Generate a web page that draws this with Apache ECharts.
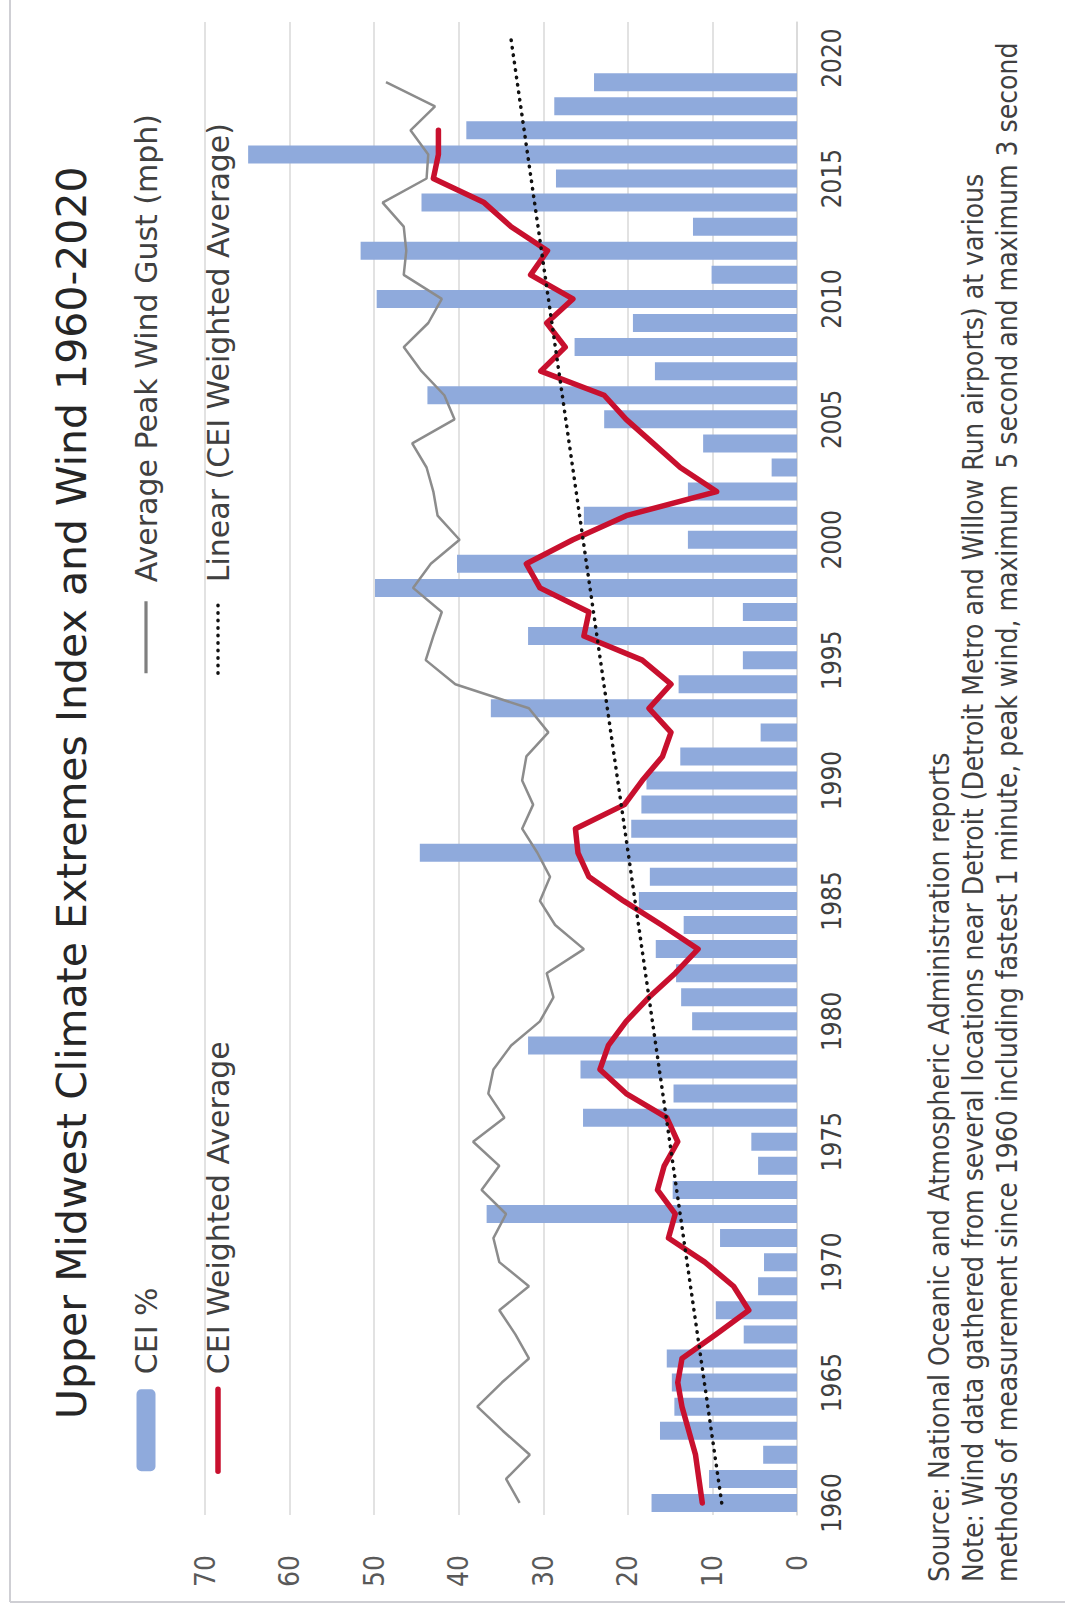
<!DOCTYPE html>
<html>
<head>
<meta charset="utf-8">
<script src="https://cdn.jsdelivr.net/npm/echarts@6/dist/echarts.min.js"></script>
<style>
  html, body { margin: 0; padding: 0; background: #fff; overflow: hidden; }
  /* the chart is laid out landscape and turned a quarter turn to sit on the portrait page */
  #frame {
    position: absolute; left: 0; top: 0;
    width: 1610px; height: 1065px;
    transform-origin: 0 0;
    transform: translateY(1610px) rotate(-90deg);
  }
</style>
</head>
<body>
<div id="frame"></div>
<script>
// Years on the category axis (labels every fifth year)
const years = [
  '1960','1961','1962','1963','1964','1965','1966','1967','1968','1969',
  '1970','1971','1972','1973','1974','1975','1976','1977','1978','1979',
  '1980','1981','1982','1983','1984','1985','1986','1987','1988','1989',
  '1990','1991','1992','1993','1994','1995','1996','1997','1998','1999',
  '2000','2001','2002','2003','2004','2005','2006','2007','2008','2009',
  '2010','2011','2012','2013','2014','2015','2016','2017','2018','2019',
  '2020','2021'
];

// Climate Extremes Index, percent (1960-2019)
const ceiPercent = [
  17.2, 10.4, 4.0, 16.2, 14.5, 14.8, 15.4, 6.3, 9.6, 4.6,
  3.9, 9.1, 36.7, 14.7, 4.6, 5.4, 25.3, 14.6, 25.6, 31.8,
  12.4, 13.7, 14.3, 16.7, 13.4, 18.7, 17.4, 44.6, 19.6, 18.4,
  17.8, 13.8, 4.3, 36.2, 14.0, 6.4, 31.8, 6.4, 49.9, 40.2,
  12.9, 25.2, 12.9, 3.0, 11.1, 22.8, 43.7, 16.8, 26.3, 19.4,
  49.7, 10.1, 51.6, 12.3, 44.4, 28.5, 64.9, 39.1, 28.7, 24.0,
  null, null
];

// CEI weighted average (1960-2017)
const ceiWeighted = [
  11.2, 11.6, 12.0, 12.8, 13.6, 14.1, 13.6, 9.6, 5.7, 7.5,
  10.9, 15.2, 14.4, 16.5, 15.7, 14.1, 15.4, 20.2, 23.3, 22.3,
  20.2, 17.5, 14.4, 11.7, 16.0, 20.5, 24.6, 25.9, 26.2, 20.4,
  18.3, 15.9, 14.9, 17.5, 14.9, 18.3, 25.2, 24.6, 30.4, 32.0,
  26.5, 20.2, 9.5, 13.8, 17.0, 20.2, 22.8, 30.3, 27.4, 29.6,
  26.5, 31.5, 29.5, 33.8, 37.0, 43.0, 42.4, 42.4,
  null, null, null, null
];

// Average peak wind gust, mph (1960-2019)
const windGust = [
  32.8, 34.4, 31.6, 34.8, 37.8, 34.9, 31.7, 33.3, 35.2, 31.7,
  35.2, 35.9, 34.4, 37.3, 35.2, 38.3, 34.6, 36.5, 35.9, 33.8,
  30.4, 28.8, 29.6, 25.2, 28.6, 30.4, 29.2, 30.7, 32.5, 31.2,
  32.5, 32.0, 29.4, 31.7, 40.4, 43.9, 43.0, 42.0, 45.4, 43.3,
  39.9, 42.5, 43.0, 43.8, 45.5, 40.5, 41.7, 44.4, 46.5, 43.6,
  42.0, 46.5, 46.2, 46.5, 49.0, 43.8, 43.6, 45.7, 42.8, 48.6,
  null, null
];

// Linear trend of the weighted average: value at the first and last year of the axis
const trendYears = ['1960', '2021'];
const trendValues = [8.9, 33.9];

// Value axis ticks
const valueTicks = [0, 10, 20, 30, 40, 50, 60, 70];

const titleText = 'Upper Midwest Climate Extremes Index and Wind 1960-2020';
const footnotes = [
  'Source: National Oceanic and Atmospheric Administration reports',
  'Note: Wind data gathered from several locations near Detroit (Detroit Metro and Willow Run airports) at various',
  'methods of measurement since 1960 including fastest 1 minute, peak wind, maximum  5 second and maximum 3 second'
];

const SANS = '"DejaVu Sans", "Noto Sans", sans-serif';
const NARROW = '"DejaVu Sans Condensed", "Liberation Sans Narrow", "DejaVu Sans", sans-serif';
const GRID = '#d9d9d9';

const RED = { color: '#c8102e', width: 5.5, join: 'round', cap: 'round' };
const GREY = { color: '#8c8c8c', width: 2.5 };
const DOTS = { color: '#111111', width: 3.5, type: [0.5, 7], cap: 'round' };

// line entries in the legend show only their stroke, without a marker
const lineKey = (name, style) => ({
  name: name,
  itemStyle: { opacity: 0 },
  lineStyle: Object.assign({ opacity: 1 }, style)
});

const chart = echarts.init(document.getElementById('frame'), null, {
  renderer: 'svg', width: 1610, height: 1065
});

chart.setOption({
  animation: false,
  backgroundColor: '#ffffff',
  title: {
    text: titleText,
    left: 186, top: 46,
    textStyle: { fontFamily: SANS, fontSize: 41, fontWeight: 'normal', color: '#262626' }
  },
  legend: [
    {
      orient: 'vertical', left: 131, top: 126, itemGap: 42,
      itemWidth: 82, itemHeight: 19,
      textStyle: { fontFamily: SANS, fontSize: 30, color: '#404040', padding: [0, 0, 0, 10] },
      data: ['CEI %', lineKey('CEI Weighted Average', RED)]
    },
    {
      orient: 'vertical', left: 930, top: 126, itemGap: 42,
      itemWidth: 72, itemHeight: 19,
      textStyle: { fontFamily: SANS, fontSize: 30, color: '#404040', padding: [0, 0, 0, 14] },
      data: [
        lineKey('Average Peak Wind Gust (mph)', { color: '#7f7f7f', width: 3.2 }),
        lineKey('Linear (CEI Weighted Average)', DOTS)
      ]
    }
  ],
  grid: { left: 95, right: 22, top: 205, bottom: 268 },
  xAxis: {
    type: 'category',
    data: years,
    boundaryGap: true,
    axisLine: { show: true, lineStyle: { color: GRID, width: 1.5 } },
    axisTick: { show: false },
    axisLabel: {
      interval: 4, margin: 22,
      fontFamily: NARROW, fontSize: 26, color: '#404040'
    },
    splitLine: { show: false }
  },
  yAxis: {
    type: 'value',
    min: valueTicks[0], max: valueTicks[valueTicks.length - 1], interval: 10,
    axisLine: { show: false },
    axisTick: { show: false },
    axisLabel: { margin: 40, fontFamily: NARROW, fontSize: 28, color: '#595959' },
    splitLine: { show: true, lineStyle: { color: GRID, width: 1.5 } }
  },
  graphic: [
    { type: 'line', silent: true, shape: { x1: 8, y1: 10, x2: 1610, y2: 10 },
      style: { stroke: '#cfcfd4', lineWidth: 2 } },
    { type: 'line', silent: true, shape: { x1: 8, y1: 10, x2: 8, y2: 1065 },
      style: { stroke: '#cfcfd4', lineWidth: 2 } }
  ].concat(footnotes.map((t, i) => ({
    type: 'text', silent: true, left: 28, top: 925 + i * 34,
    style: { text: t, font: '28px ' + NARROW, fill: '#404040' }
  }))),
  series: [
    {
      name: 'CEI %', type: 'bar', data: ceiPercent,
      barWidth: 18,
      itemStyle: { color: '#8faadc' }
    },
    {
      name: 'Average Peak Wind Gust (mph)', type: 'line', data: windGust,
      symbol: 'none',
      lineStyle: GREY,
      itemStyle: { color: GREY.color }
    },
    {
      name: 'CEI Weighted Average', type: 'line', data: ceiWeighted,
      symbol: 'none',
      lineStyle: RED,
      itemStyle: { color: RED.color }
    },
    {
      name: 'Linear (CEI Weighted Average)', type: 'line',
      data: trendYears.map((y, i) => [y, trendValues[i]]),
      symbol: 'none',
      lineStyle: DOTS,
      itemStyle: { color: DOTS.color }
    }
  ]
});
</script>
</body>
</html>
